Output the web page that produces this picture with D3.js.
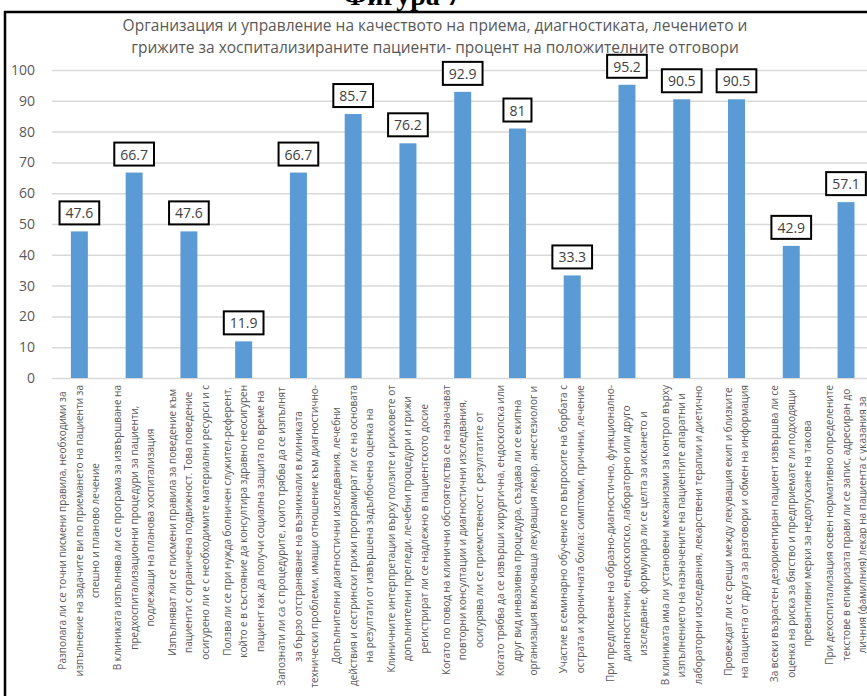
<!DOCTYPE html>
<html>
<head>
<meta charset="utf-8">
<script src="https://cdn.jsdelivr.net/npm/d3@7"></script>
<style>
  html, body { margin: 0; padding: 0; background: #fff; overflow: hidden; }
  svg { display: block; }
</style>
</head>
<body>
<svg id="chart" width="867" height="696"></svg>
<script>
// Survey answers: share of positive responses (%) per question
const values = [47.6, 66.7, 47.6, 11.9, 66.7, 85.7, 76.2, 92.9, 81, 33.3, 95.2, 90.5, 90.5, 42.9, 57.1];

const questions = [
  ["Разполага ли се точни писмени правила, необходими за", "изпълнение на задачите ви по приемането на пациенти за", "спешно и планово лечение"],
  ["В клиниката изпълнява ли се програма за извършване на", "предхоспитализационни процедури за пациенти,", "подлежащи на планова хоспитализация"],
  ["Изпълняват ли се писмени правила  за поведение към", "пациенти с ограничена подвижност. Това поведение", "осигурено ли е с необходимите материални ресурси и с"],
  ["Ползва ли се при нужда болничен служител-референт,", "който е в състояние да консултира здравно неосигурен", "пациент как да получи социална защита по време на"],
  ["Запознати ли са с процедурите, които трябва да се изпълнят", "за бързо отстраняване на възникнали в клиниката", "технически проблеми, имащи отношение към диагностично-"],
  ["Допълнителни диагностични изследвания, лечебни", "действия и сестрински грижи програмират ли се на основата", "на резултати от извършена задълбочена оценка на"],
  ["Клиничните интерпретации върху ползите и рисковете от", "допълнителни прегледи, лечебни процедури и грижи", "регистрират ли се надлежно в пациентското досие"],
  ["Когато по повод на клинични обстоятелства се назначават", "повторни консултации и диагностични изследвания,", "осигурява ли се приемственост с резултатите от"],
  ["Когато трябва да се извърши хирургична, ендоскопска или", "друг вид инвазивна процедура, създава ли се екипна", "организация включваща лекуващия лекар, анестезиолог и"],
  ["Участие в семинарно обучение по въпросите на борбата с", "острата и хроничната болка: симптоми, причини, лечение"],
  ["При предписване на образно-диагностично, функционално-", "диагностични, ендоскопско, лабораторно или друго", "изследване, формулира ли се целта за искането и"],
  ["В клиниката има ли установени механизми за контрол върху", "изпълнението на назначените на пациентите апаратни и", "лабораторни изследвания, лекарствени терапии и диетично"],
  ["Провеждат ли се срещи между лекуващия екип и близките", "на пациента от друга за разговори и обмен на информация"],
  ["За всеки възрастен дезориентиран пациент извършва ли се", "оценка на риска за бягство и предприемате ли подходящи", "превантивни мерки за недопускане на такова"],
  ["При дехоспитализация освен нормативно определените", "текстове в епикризата прави ли се запис, адресиран до", "личния (фамилния) лекар на пациента с указания за"]
];

const yTicks = [0, 10, 20, 30, 40, 50, 60, 70, 80, 90, 100];

const titleLines = [
  "Организация и управление на качеството на приема, диагностиката, лечението и",
  "грижите за хоспитализираните пациенти- процент на положителните отговори"
];
const figureCaption = "Фигура 7";

const svg = d3.select("#chart");
const W = 867, H = 696;
const FONT = "'Open Sans', 'Noto Sans', sans-serif";

const x = d3.scaleBand()
  .domain(d3.range(values.length))
  .range([52, 873.4])
  .paddingInner(0.69)
  .paddingOuter(0.345);

const y = d3.scaleLinear().domain([0, 100]).range([378, 70]);

// caption sitting above the frame (mostly cut off by the page edge)
svg.append("text")
  .attr("x", 402).attr("y", 5)
  .attr("text-anchor", "middle")
  .attr("font-family", "'Liberation Serif', 'DejaVu Serif', serif")
  .attr("font-weight", "bold")
  .attr("font-size", 28)
  .attr("fill", "#000")
  .text(figureCaption);

// chart frame
svg.append("rect")
  .attr("x", 5).attr("y", 12)
  .attr("width", 900).attr("height", 720)
  .attr("fill", "#fff")
  .attr("stroke", "#000")
  .attr("stroke-width", 2.5);

// title
svg.append("g").selectAll("text")
  .data(titleLines)
  .join("text")
  .attr("x", 435)
  .attr("y", (d, i) => 31 + i * 22)
  .attr("text-anchor", "middle")
  .attr("font-family", FONT)
  .attr("font-size", 15.5)
  .attr("fill", "#595959")
  .text(d => d);

// y axis: gridlines and tick labels
const yAxis = d3.axisLeft(y)
  .tickValues(yTicks)
  .tickSize(-(W - 52))
  .tickPadding(17);

const gy = svg.append("g")
  .attr("transform", "translate(52,0)")
  .call(yAxis);
gy.select(".domain").remove();
gy.selectAll(".tick line")
  .attr("stroke", "#d9d9d9")
  .attr("stroke-width", 1.5);
gy.selectAll(".tick text")
  .attr("font-family", FONT)
  .attr("font-size", 14)
  .attr("fill", "#595959");

// bars
svg.append("g").selectAll("rect")
  .data(values)
  .join("rect")
  .attr("x", (d, i) => x(i))
  .attr("y", d => y(d))
  .attr("width", x.bandwidth())
  .attr("height", d => y(0) - y(d))
  .attr("fill", "#5b9bd5");

// boxed value labels
const vl = svg.append("g").selectAll("g")
  .data(values)
  .join("g")
  .attr("transform", (d, i) => `translate(${x(i) + x.bandwidth() / 2},${y(d) - 7})`);

vl.append("text")
  .attr("text-anchor", "middle")
  .attr("y", -6)
  .attr("font-family", FONT)
  .attr("font-size", 14)
  .attr("fill", "#404040")
  .text(d => d3.format("")(d));

vl.each(function () {
  const g = d3.select(this);
  const w = g.select("text").node().getComputedTextLength() + 12;
  g.insert("rect", "text")
    .attr("x", -w / 2).attr("y", -23)
    .attr("width", w).attr("height", 23)
    .attr("fill", "#fff")
    .attr("stroke", "#000")
    .attr("stroke-width", 2);
});

// rotated category labels, lines centred on each other
const AXIS_Y = 385, LINE_STEP = 16.5;
questions.forEach((lines, i) => {
  const cx = x(i) + x.bandwidth() / 2;
  const g = svg.append("g")
    .attr("transform", `translate(${cx},${AXIS_Y}) rotate(-90)`);
  const t = g.selectAll("text")
    .data(lines)
    .join("text")
    .attr("font-family", FONT)
    .attr("font-size", 10)
    .attr("fill", "#595959")
    .attr("text-anchor", "middle")
    .attr("dy", "0.35em")
    .text(d => d);
  let maxW = 0;
  t.each(function () { maxW = Math.max(maxW, this.getComputedTextLength()); });
  const n = lines.length;
  t.attr("x", -maxW / 2)
   .attr("y", (d, j) => (j - (n - 1) / 2) * LINE_STEP);
});
</script>
</body>
</html>
